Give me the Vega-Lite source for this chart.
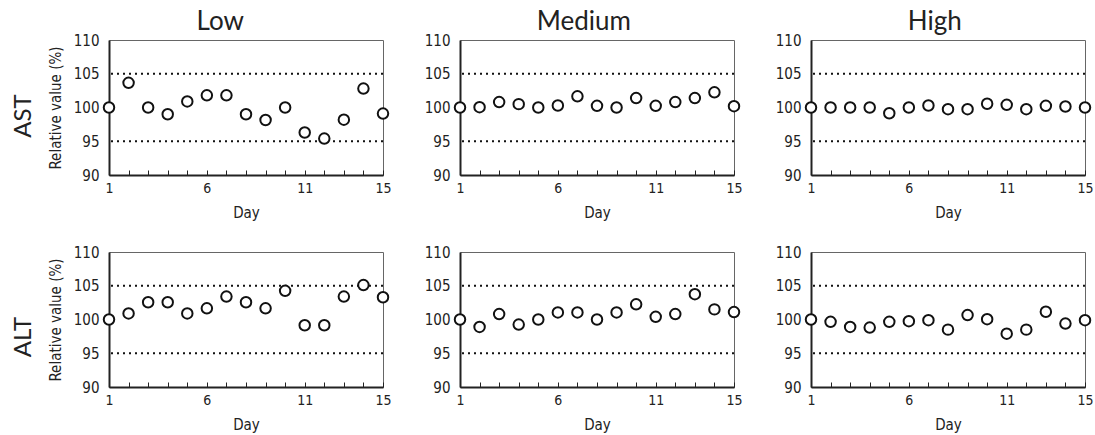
{
  "$schema": "https://vega.github.io/schema/vega-lite/v6.json",
  "padding": {"left": 11, "top": 8, "right": 5, "bottom": 4},
  "background": "white",
  "datasets": {
    "pts": [
      {"p":"AST","l":"Low","d":1,"v":100},{"p":"AST","l":"Low","d":2,"v":103.65},{"p":"AST","l":"Low","d":3,"v":100},{"p":"AST","l":"Low","d":4,"v":99.0},{"p":"AST","l":"Low","d":5,"v":100.9},{"p":"AST","l":"Low","d":6,"v":101.8},{"p":"AST","l":"Low","d":7,"v":101.8},{"p":"AST","l":"Low","d":8,"v":99.0},{"p":"AST","l":"Low","d":9,"v":98.15},{"p":"AST","l":"Low","d":10,"v":100},{"p":"AST","l":"Low","d":11,"v":96.3},{"p":"AST","l":"Low","d":12,"v":95.4},{"p":"AST","l":"Low","d":13,"v":98.2},{"p":"AST","l":"Low","d":14,"v":102.8},{"p":"AST","l":"Low","d":15,"v":99.1},
      {"p":"AST","l":"Medium","d":1,"v":100},{"p":"AST","l":"Medium","d":2,"v":100.05},{"p":"AST","l":"Medium","d":3,"v":100.8},{"p":"AST","l":"Medium","d":4,"v":100.5},{"p":"AST","l":"Medium","d":5,"v":100},{"p":"AST","l":"Medium","d":6,"v":100.3},{"p":"AST","l":"Medium","d":7,"v":101.65},{"p":"AST","l":"Medium","d":8,"v":100.25},{"p":"AST","l":"Medium","d":9,"v":100},{"p":"AST","l":"Medium","d":10,"v":101.4},{"p":"AST","l":"Medium","d":11,"v":100.25},{"p":"AST","l":"Medium","d":12,"v":100.8},{"p":"AST","l":"Medium","d":13,"v":101.4},{"p":"AST","l":"Medium","d":14,"v":102.25},{"p":"AST","l":"Medium","d":15,"v":100.2},
      {"p":"AST","l":"High","d":1,"v":100},{"p":"AST","l":"High","d":2,"v":100},{"p":"AST","l":"High","d":3,"v":100},{"p":"AST","l":"High","d":4,"v":100},{"p":"AST","l":"High","d":5,"v":99.15},{"p":"AST","l":"High","d":6,"v":100},{"p":"AST","l":"High","d":7,"v":100.3},{"p":"AST","l":"High","d":8,"v":99.75},{"p":"AST","l":"High","d":9,"v":99.75},{"p":"AST","l":"High","d":10,"v":100.55},{"p":"AST","l":"High","d":11,"v":100.4},{"p":"AST","l":"High","d":12,"v":99.75},{"p":"AST","l":"High","d":13,"v":100.25},{"p":"AST","l":"High","d":14,"v":100.15},{"p":"AST","l":"High","d":15,"v":100},
      {"p":"ALT","l":"Low","d":1,"v":100},{"p":"ALT","l":"Low","d":2,"v":100.9},{"p":"ALT","l":"Low","d":3,"v":102.55},{"p":"ALT","l":"Low","d":4,"v":102.55},{"p":"ALT","l":"Low","d":5,"v":100.9},{"p":"ALT","l":"Low","d":6,"v":101.65},{"p":"ALT","l":"Low","d":7,"v":103.4},{"p":"ALT","l":"Low","d":8,"v":102.55},{"p":"ALT","l":"Low","d":9,"v":101.65},{"p":"ALT","l":"Low","d":10,"v":104.25},{"p":"ALT","l":"Low","d":11,"v":99.15},{"p":"ALT","l":"Low","d":12,"v":99.15},{"p":"ALT","l":"Low","d":13,"v":103.4},{"p":"ALT","l":"Low","d":14,"v":105.1},{"p":"ALT","l":"Low","d":15,"v":103.3},
      {"p":"ALT","l":"Medium","d":1,"v":100},{"p":"ALT","l":"Medium","d":2,"v":98.9},{"p":"ALT","l":"Medium","d":3,"v":100.8},{"p":"ALT","l":"Medium","d":4,"v":99.25},{"p":"ALT","l":"Medium","d":5,"v":100},{"p":"ALT","l":"Medium","d":6,"v":101.05},{"p":"ALT","l":"Medium","d":7,"v":101.05},{"p":"ALT","l":"Medium","d":8,"v":100},{"p":"ALT","l":"Medium","d":9,"v":101.05},{"p":"ALT","l":"Medium","d":10,"v":102.25},{"p":"ALT","l":"Medium","d":11,"v":100.4},{"p":"ALT","l":"Medium","d":12,"v":100.8},{"p":"ALT","l":"Medium","d":13,"v":103.75},{"p":"ALT","l":"Medium","d":14,"v":101.5},{"p":"ALT","l":"Medium","d":15,"v":101.1},
      {"p":"ALT","l":"High","d":1,"v":100},{"p":"ALT","l":"High","d":2,"v":99.65},{"p":"ALT","l":"High","d":3,"v":98.9},{"p":"ALT","l":"High","d":4,"v":98.8},{"p":"ALT","l":"High","d":5,"v":99.65},{"p":"ALT","l":"High","d":6,"v":99.75},{"p":"ALT","l":"High","d":7,"v":99.9},{"p":"ALT","l":"High","d":8,"v":98.5},{"p":"ALT","l":"High","d":9,"v":100.65},{"p":"ALT","l":"High","d":10,"v":100.05},{"p":"ALT","l":"High","d":11,"v":97.9},{"p":"ALT","l":"High","d":12,"v":98.5},{"p":"ALT","l":"High","d":13,"v":101.15},{"p":"ALT","l":"High","d":14,"v":99.4},{"p":"ALT","l":"High","d":15,"v":99.9}
    ],
    "refs": [{"r":95},{"r":105}]
  },
  "data": {"name": "pts"},
  "vconcat": [
    {
      "bounds": "flush",
      "spacing": 77,
      "hconcat": [
        {"width":16,"height":135,"data":{"values":[{"h":"AST"}]},"view":{"stroke":null},
         "mark":{"type":"text","angle":270,"font":"Lato","fontSize":24,"align":"center","baseline":"middle","x":8,"y":76,"color":"#222"},
         "encoding":{"text":{"field":"h","type":"nominal"}}},
        {"width":274,"height":135,"title":{"text":"Low"},
         "layer":[
           {"data":{"name":"refs"},"mark":{"type":"rule","strokeDash":[2,4],"strokeWidth":2,"color":"#111"},"encoding":{"y":{"field":"r","type":"quantitative","scale":{"domain":[90,110],"nice":false,"zero":false},"axis":{"title":"Relative value (%)","values":[90,95,100,105,110]}}}},
           {"transform":[{"filter":"datum.p=='AST' && datum.l=='Low'"}],
            "mark":{"type":"point","shape":"circle","filled":true,"fill":"white","stroke":"#111","strokeWidth":2,"size":110,"opacity":1},
            "encoding":{
              "x":{"field":"d","type":"quantitative","scale":{"domain":[1,15],"nice":false,"zero":false},"axis":{"title":"Day","values":[1,2,3,4,5,6,7,8,9,10,11,12,13,14,15],"labelExpr":"indexof([1,6,11,15], datum.value) >= 0 ? datum.label : ''"}},
              "y":{"field":"v","type":"quantitative","scale":{"domain":[90,110],"nice":false,"zero":false},"axis":{"title":"Relative value (%)","values":[90,95,100,105,110]}}}}
         ]},
        {"width":274,"height":135,"title":{"text":"Medium"},
         "layer":[
           {"data":{"name":"refs"},"mark":{"type":"rule","strokeDash":[2,4],"strokeWidth":2,"color":"#111"},"encoding":{"y":{"field":"r","type":"quantitative","scale":{"domain":[90,110],"nice":false,"zero":false},"axis":{"title":null,"values":[90,95,100,105,110]}}}},
           {"transform":[{"filter":"datum.p=='AST' && datum.l=='Medium'"}],
            "mark":{"type":"point","shape":"circle","filled":true,"fill":"white","stroke":"#111","strokeWidth":2,"size":110,"opacity":1},
            "encoding":{
              "x":{"field":"d","type":"quantitative","scale":{"domain":[1,15],"nice":false,"zero":false},"axis":{"title":"Day","values":[1,2,3,4,5,6,7,8,9,10,11,12,13,14,15],"labelExpr":"indexof([1,6,11,15], datum.value) >= 0 ? datum.label : ''"}},
              "y":{"field":"v","type":"quantitative","scale":{"domain":[90,110],"nice":false,"zero":false},"axis":{"title":null,"values":[90,95,100,105,110]}}}}
         ]},
        {"width":274,"height":135,"title":{"text":"High"},
         "layer":[
           {"data":{"name":"refs"},"mark":{"type":"rule","strokeDash":[2,4],"strokeWidth":2,"color":"#111"},"encoding":{"y":{"field":"r","type":"quantitative","scale":{"domain":[90,110],"nice":false,"zero":false},"axis":{"title":null,"values":[90,95,100,105,110]}}}},
           {"transform":[{"filter":"datum.p=='AST' && datum.l=='High'"}],
            "mark":{"type":"point","shape":"circle","filled":true,"fill":"white","stroke":"#111","strokeWidth":2,"size":110,"opacity":1},
            "encoding":{
              "x":{"field":"d","type":"quantitative","scale":{"domain":[1,15],"nice":false,"zero":false},"axis":{"title":"Day","values":[1,2,3,4,5,6,7,8,9,10,11,12,13,14,15],"labelExpr":"indexof([1,6,11,15], datum.value) >= 0 ? datum.label : ''"}},
              "y":{"field":"v","type":"quantitative","scale":{"domain":[90,110],"nice":false,"zero":false},"axis":{"title":null,"values":[90,95,100,105,110]}}}}
         ]}
      ]
    },
    {
      "bounds": "flush",
      "spacing": 77,
      "hconcat": [
        {"width":16,"height":135,"data":{"values":[{"h":"ALT"}]},"view":{"stroke":null},
         "mark":{"type":"text","angle":270,"font":"Lato","fontSize":24,"align":"center","baseline":"middle","x":8,"y":85,"color":"#222"},
         "encoding":{"text":{"field":"h","type":"nominal"}}},
        {"width":274,"height":135,
         "layer":[
           {"data":{"name":"refs"},"mark":{"type":"rule","strokeDash":[2,4],"strokeWidth":2,"color":"#111"},"encoding":{"y":{"field":"r","type":"quantitative","scale":{"domain":[90,110],"nice":false,"zero":false},"axis":{"title":"Relative value (%)","values":[90,95,100,105,110]}}}},
           {"transform":[{"filter":"datum.p=='ALT' && datum.l=='Low'"}],
            "mark":{"type":"point","shape":"circle","filled":true,"fill":"white","stroke":"#111","strokeWidth":2,"size":110,"opacity":1},
            "encoding":{
              "x":{"field":"d","type":"quantitative","scale":{"domain":[1,15],"nice":false,"zero":false},"axis":{"title":"Day","values":[1,2,3,4,5,6,7,8,9,10,11,12,13,14,15],"labelExpr":"indexof([1,6,11,15], datum.value) >= 0 ? datum.label : ''"}},
              "y":{"field":"v","type":"quantitative","scale":{"domain":[90,110],"nice":false,"zero":false},"axis":{"title":"Relative value (%)","values":[90,95,100,105,110]}}}}
         ]},
        {"width":274,"height":135,
         "layer":[
           {"data":{"name":"refs"},"mark":{"type":"rule","strokeDash":[2,4],"strokeWidth":2,"color":"#111"},"encoding":{"y":{"field":"r","type":"quantitative","scale":{"domain":[90,110],"nice":false,"zero":false},"axis":{"title":null,"values":[90,95,100,105,110]}}}},
           {"transform":[{"filter":"datum.p=='ALT' && datum.l=='Medium'"}],
            "mark":{"type":"point","shape":"circle","filled":true,"fill":"white","stroke":"#111","strokeWidth":2,"size":110,"opacity":1},
            "encoding":{
              "x":{"field":"d","type":"quantitative","scale":{"domain":[1,15],"nice":false,"zero":false},"axis":{"title":"Day","values":[1,2,3,4,5,6,7,8,9,10,11,12,13,14,15],"labelExpr":"indexof([1,6,11,15], datum.value) >= 0 ? datum.label : ''"}},
              "y":{"field":"v","type":"quantitative","scale":{"domain":[90,110],"nice":false,"zero":false},"axis":{"title":null,"values":[90,95,100,105,110]}}}}
         ]},
        {"width":274,"height":135,
         "layer":[
           {"data":{"name":"refs"},"mark":{"type":"rule","strokeDash":[2,4],"strokeWidth":2,"color":"#111"},"encoding":{"y":{"field":"r","type":"quantitative","scale":{"domain":[90,110],"nice":false,"zero":false},"axis":{"title":null,"values":[90,95,100,105,110]}}}},
           {"transform":[{"filter":"datum.p=='ALT' && datum.l=='High'"}],
            "mark":{"type":"point","shape":"circle","filled":true,"fill":"white","stroke":"#111","strokeWidth":2,"size":110,"opacity":1},
            "encoding":{
              "x":{"field":"d","type":"quantitative","scale":{"domain":[1,15],"nice":false,"zero":false},"axis":{"title":"Day","values":[1,2,3,4,5,6,7,8,9,10,11,12,13,14,15],"labelExpr":"indexof([1,6,11,15], datum.value) >= 0 ? datum.label : ''"}},
              "y":{"field":"v","type":"quantitative","scale":{"domain":[90,110],"nice":false,"zero":false},"axis":{"title":null,"values":[90,95,100,105,110]}}}}
         ]}
      ]
    }
  ],
  "spacing": 212,
  "bounds": "flush",
  "config": {
    "view": {"stroke": "#666", "strokeWidth": 1},
    "title": {"font": "Lato", "fontSize": 26, "fontWeight": "normal", "color": "#222", "anchor": "middle", "frame": "bounds", "offset": -2},
    "axis": {"grid": false, "domainColor": "#222", "domainWidth": 2, "labelFont": "Liberation Sans Narrow, DejaVu Sans Condensed, sans-serif", "titleFont": "Liberation Sans Narrow, DejaVu Sans Condensed, sans-serif", "labelColor": "#222", "titleColor": "#222", "titleFontWeight": "normal"},
    "axisX": {"tickSize": -5, "tickColor": "#222", "tickWidth": 1, "labelFontSize": 14, "titleFontSize": 15, "labelOverlap": false, "labelFlush": false, "labelPadding": 11, "titlePadding": 10},
    "axisY": {"ticks": false, "labelFontSize": 15, "labelPadding": 10, "titleFontSize": 15, "titlePadding": 10, "labelOverlap": false}
  }
}
